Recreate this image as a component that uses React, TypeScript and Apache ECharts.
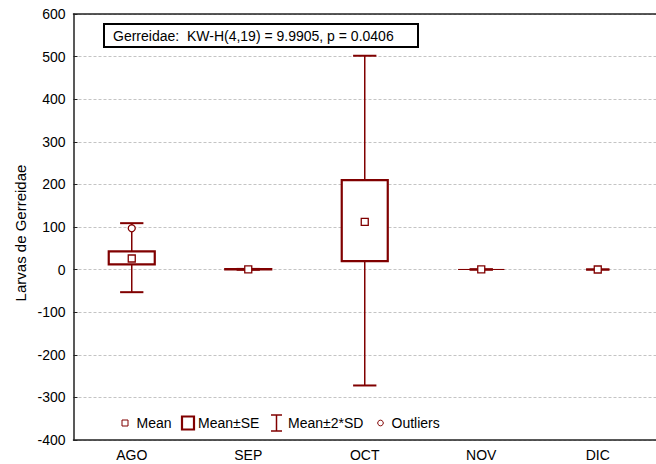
import React, { useEffect, useRef } from "react";
import * as echarts from "echarts";

const categories = ["AGO", "SEP", "OCT", "NOV", "DIC"];
const meanValues = [26, 0.6, 112, 0.3, 0.2];
const seLower: (number | null)[] = [12.5, 0.2, 20, 0.3, null];
const seUpper: (number | null)[] = [43, 1.0, 210, 0.3, null];
const sdLower = [-53, -0.4, -272, -0.3, 0];
const sdUpper = [109, 1.6, 502, 0.9, 0.4];
const outlierPoints: [number, number][] = [[0, 97]];
const yMin = -400;
const yMax = 600;
const yStep = 100;
const titleText = "Gerreidae:  KW-H(4,19) = 9.9905, p = 0.0406";
const yAxisName = "Larvas de Gerreidae";
const legendLabels = ["Mean", "Mean\u00b1SE", "Mean\u00b12*SD", "Outliers"];

const MAROON = "#800000";
const FONT = "'Liberation Sans', Arial, sans-serif";

export default function App() {
  const ref = useRef<HTMLDivElement>(null);

  useEffect(() => {
    if (!ref.current) return;
    const chart = echarts.init(ref.current, null, { renderer: "svg" });

    const boxData = categories.map((_, i) => [
      i,
      meanValues[i],
      seLower[i] == null ? "-" : seLower[i],
      seUpper[i] == null ? "-" : seUpper[i],
      sdLower[i],
      sdUpper[i],
    ]);

    const renderItem = (params: any, api: any) => {
      const i = api.value(0);
      const band = api.size([1, 0])[0];
      const boxW = band * 0.395;
      const capW = band * 0.2;
      const cx = api.coord([i, 0])[0];
      const yMean = api.coord([i, api.value(1)])[1];
      const seL = api.value(2);
      const seU = api.value(3);
      const ySdL = api.coord([i, api.value(4)])[1];
      const ySdU = api.coord([i, api.value(5)])[1];
      const children: any[] = [];
      children.push({
        type: "line",
        shape: { x1: cx, y1: ySdU, x2: cx, y2: ySdL },
        style: { stroke: MAROON, lineWidth: 1.5 },
      });
      children.push({
        type: "line",
        shape: { x1: cx - capW / 2, y1: ySdU, x2: cx + capW / 2, y2: ySdU },
        style: { stroke: MAROON, lineWidth: 2 },
      });
      children.push({
        type: "line",
        shape: { x1: cx - capW / 2, y1: ySdL, x2: cx + capW / 2, y2: ySdL },
        style: { stroke: MAROON, lineWidth: 2 },
      });
      if (!isNaN(seL) && !isNaN(seU)) {
        const yL = api.coord([i, seL])[1];
        const yU = api.coord([i, seU])[1];
        const h = yL - yU;
        children.push({
          type: "rect",
          shape: { x: cx - boxW / 2, y: yU, width: boxW, height: h },
          style: { fill: "#fff", stroke: MAROON, lineWidth: h < 0.05 ? 1 : 2.2 },
        });
      }
      children.push({
        type: "rect",
        shape: { x: cx - 3.5, y: yMean - 3.5, width: 7, height: 7 },
        style: { fill: "#fff", stroke: MAROON, lineWidth: 1.3 },
      });
      return { type: "group", children };
    };

    const legendY = 423;
    const textStyle = (x: number, text: string) => ({
      type: "text",
      x,
      y: legendY,
      style: {
        text,
        fill: "#000",
        font: `14px ${FONT}`,
        verticalAlign: "middle",
      },
      z: 100,
    });

    chart.setOption({
      animation: false,
      backgroundColor: "#fff",
      grid: { left: 73.5, top: 14, width: 585, height: 426, containLabel: false },
      xAxis: [
        {
          type: "category",
          data: categories,
          position: "bottom",
          boundaryGap: true,
          axisLine: { onZero: false, lineStyle: { color: "#222", width: 1.5 } },
          axisTick: { inside: true, alignWithLabel: true, length: 4, lineStyle: { color: "#222" } },
          axisLabel: { color: "#000", fontSize: 14, fontFamily: FONT, margin: 8 },
          splitLine: { show: false },
        },
        {
          type: "category",
          data: categories,
          position: "top",
          boundaryGap: true,
          axisLine: { onZero: false, lineStyle: { color: "#222", width: 1.5 } },
          axisTick: { inside: true, alignWithLabel: true, length: 4, lineStyle: { color: "#222" } },
          axisLabel: { show: false },
          splitLine: { show: false },
        },
      ],
      yAxis: {
        type: "value",
        min: yMin,
        max: yMax,
        interval: yStep,
        axisLine: { show: true, onZero: false, lineStyle: { color: "#222", width: 1.5 } },
        axisTick: { show: true, inside: true, length: 4, lineStyle: { color: "#222" } },
        axisLabel: { color: "#000", fontSize: 14, fontFamily: FONT, margin: 8 },
        splitLine: { show: true, lineStyle: { color: "#c4c4c4", type: [3, 2], width: 1 } },
      },
      series: [
        {
          type: "custom",
          renderItem,
          encode: { x: 0, y: [1, 2, 3, 4, 5] },
          data: boxData,
          z: 5,
        },
        {
          type: "scatter",
          data: outlierPoints,
          symbol: "circle",
          symbolSize: 7,
          itemStyle: { color: "#fff", borderColor: MAROON, borderWidth: 1.3, opacity: 1 },
          z: 6,
        },
      ],
      graphic: [
        {
          type: "text",
          x: 20.5,
          y: 233,
          rotation: Math.PI / 2,
          style: {
            text: yAxisName,
            fill: "#000",
            font: `15px ${FONT}`,
            align: "center",
            verticalAlign: "middle",
          },
          z: 100,
        },
        {
          type: "rect",
          shape: { x: 104, y: 24, width: 314, height: 23 },
          style: { fill: "#fff", stroke: "#000", lineWidth: 2 },
          z: 100,
        },
        {
          type: "text",
          x: 113,
          y: 35.5,
          style: {
            text: titleText,
            fill: "#000",
            font: `14px ${FONT}`,
            verticalAlign: "middle",
          },
          z: 101,
        },
        {
          type: "rect",
          shape: { x: 122, y: legendY - 3, width: 6, height: 6 },
          style: { fill: "#fff", stroke: MAROON, lineWidth: 1 },
          z: 100,
        },
        textStyle(136.5, legendLabels[0]),
        {
          type: "rect",
          shape: { x: 182, y: legendY - 6.5, width: 12, height: 13 },
          style: { fill: "#fff", stroke: MAROON, lineWidth: 2.2 },
          z: 100,
        },
        textStyle(198, legendLabels[1]),
        {
          type: "line",
          shape: { x1: 276.5, y1: legendY - 8, x2: 276.5, y2: legendY + 8 },
          style: { stroke: MAROON, lineWidth: 1.5 },
          z: 100,
        },
        {
          type: "line",
          shape: { x1: 271, y1: legendY - 8, x2: 282, y2: legendY - 8 },
          style: { stroke: MAROON, lineWidth: 1.5 },
          z: 100,
        },
        {
          type: "line",
          shape: { x1: 271, y1: legendY + 8, x2: 282, y2: legendY + 8 },
          style: { stroke: MAROON, lineWidth: 1.5 },
          z: 100,
        },
        textStyle(288, legendLabels[2]),
        {
          type: "circle",
          shape: { cx: 380.5, cy: legendY, r: 2.8 },
          style: { fill: "#fff", stroke: MAROON, lineWidth: 1 },
          z: 100,
        },
        textStyle(391.5, legendLabels[3]),
      ],
    });

    return () => chart.dispose();
  }, []);

  return (
    <div
      ref={ref}
      style={{ position: "absolute", left: 0, top: 0, width: 656, height: 464 }}
    />
  );
}
